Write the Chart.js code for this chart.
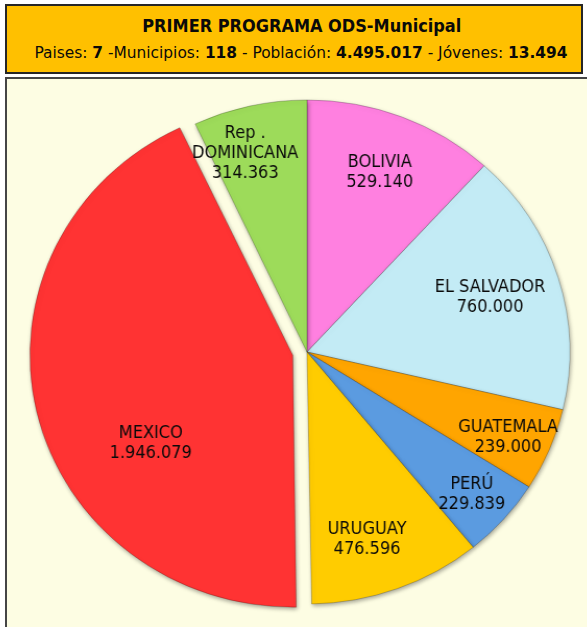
<!DOCTYPE html>
<html>
<head>
<meta charset="utf-8">
<script src="https://cdn.jsdelivr.net/npm/chart.js@4"></script>
<style>
html,body{margin:0;padding:0;width:587px;height:627px;overflow:hidden;background:#ffffff;}
#titleBox{position:absolute;left:5px;top:4px;width:574px;height:66px;background:#FFC000;border:2px solid #262626;}
.row{position:absolute;left:0;width:100%;height:22px;line-height:22px;text-align:center;white-space:nowrap;font-family:"DejaVu Sans",sans-serif;color:#0a0a0a;}
.row .inner{display:inline-block;transform-origin:50% 50%;}
#r1{top:9px;font-size:18px;font-weight:bold;}
#r2{top:36px;font-size:16px;}
#r2 b{font-weight:bold;}
#chartBox{position:absolute;left:5px;top:77px;width:640px;height:640px;background:#FDFDE3;border:2px solid #454545;}
#cv{position:absolute;left:0;top:0;transform:scaleX(1.043);transform-origin:307px 0;}
</style>
</head>
<body>
<div id="titleBox">
  <div class="row" id="r1"><span class="inner" id="t1"></span></div>
  <div class="row" id="r2"><span class="inner" id="t2"></span></div>
</div>
<div id="chartBox"></div>
<canvas id="cv" width="587" height="627"></canvas>
<script>
// ---- data ----
const titleText = 'PRIMER PROGRAMA ODS-Municipal';
const paises = 7;
const municipios = 118;
const poblacion = 4495017;
const jovenes = 13494;

const countries = ['BOLIVIA', 'EL SALVADOR', 'GUATEMALA', 'PERÚ', 'URUGUAY', 'MEXICO', 'Rep . DOMINICANA'];
const nameLines = [['BOLIVIA'], ['EL SALVADOR'], ['GUATEMALA'], ['PERÚ'], ['URUGUAY'], ['MEXICO'], ['Rep .', 'DOMINICANA']];
const population = [529140, 760000, 239000, 229839, 476596, 1946079, 314363];

// ---- styles ----
const sliceColors = ['#FF80E0', '#C3EBF5', '#FFA500', '#5B9BE0', '#FFCC00', '#FF3333', '#9DDB5A'];
const explodePx = [0, 0, 0, 0, 0, 14, 0];
const labelAngleShift = [0, 0, 1, 0.5, 3, -19.7, -4];
const labelRadiusFrac = [0.766, 0.729, 0.836, 0.845, 0.776, 0.643, 0.824];

function fmt(n) { return String(n).replace(/\B(?=(\d{3})+(?!\d))/g, '.'); }

document.getElementById('t1').textContent = titleText;
document.getElementById('t2').innerHTML =
  'Paises: <b>' + paises + '</b> -Municipios: <b>' + municipios + '</b> - Población: <b>' +
  fmt(poblacion) + '</b> - Jóvenes: <b>' + fmt(jovenes) + '</b>';

function fitWidth(id, target, shift) {
  const el = document.getElementById(id);
  const w = el.getBoundingClientRect().width;
  if (w > 0) el.style.transform = 'translateX(' + shift + 'px) scaleX(' + (target / w) + ')';
}
fitWidth('t1', 319, 8);
fitWidth('t2', 533, 7);

const fixOffset = {
  id: 'fixOffset',
  afterDatasetUpdate(chart, args) {
    args.meta.data.forEach((el, i) => {
      const off = explodePx[i];
      if (!off) return;
      const circ = el.endAngle - el.startAngle;
      const fix = 1 - Math.sin(Math.min(Math.PI, circ));
      el.outerRadius -= off * fix;
    });
  }
};

const shadow = {
  id: 'shadow',
  beforeDatasetDraw(chart) {
    const c = chart.ctx;
    c.save();
    c.shadowColor = 'rgba(0,0,0,0.35)';
    c.shadowBlur = 4;
    c.shadowOffsetX = 1;
    c.shadowOffsetY = 2;
  },
  afterDatasetDraw(chart) { chart.ctx.restore(); }
};

const sliceLabels = {
  id: 'sliceLabels',
  afterDatasetsDraw(chart) {
    const ctx = chart.ctx;
    const meta = chart.getDatasetMeta(0);
    ctx.save();
    ctx.font = '18px "DejaVu Sans", sans-serif';
    ctx.fillStyle = '#0a0a0a';
    ctx.textAlign = 'center';
    ctx.textBaseline = 'middle';
    meta.data.forEach((el, i) => {
      const p = el.getProps(['x', 'y', 'startAngle', 'endAngle', 'outerRadius']);
      const half = (p.startAngle + p.endAngle) / 2;
      const ang = half + labelAngleShift[i] * Math.PI / 180;
      const R = chart.options.radius;
      let x = p.x + Math.cos(ang) * R * labelRadiusFrac[i] + Math.cos(half) * explodePx[i];
      let y = p.y + Math.sin(ang) * R * labelRadiusFrac[i] + Math.sin(half) * explodePx[i];
      const lines = nameLines[i].concat([fmt(population[i])]);
      const lh = 20;
      const y0 = y - (lines.length - 1) * lh / 2;
      lines.forEach((t, k) => {
        ctx.save();
        ctx.translate(x, y0 + k * lh);
        ctx.scale(0.86, 1);
        ctx.fillText(t, 0, 0);
        ctx.restore();
      });
    });
    ctx.restore();
  }
};

new Chart(document.getElementById('cv'), {
  type: 'pie',
  data: {
    labels: countries,
    datasets: [{
      data: population,
      backgroundColor: sliceColors,
      borderColor: 'rgba(0,0,0,0.22)',
      borderWidth: 1,
      offset: explodePx.map(v => v * 4)
    }]
  },
  options: {
    responsive: false,
    animation: false,
    events: [],
    radius: 252,
    rotation: 0,
    layout: { padding: { left: 27, top: 77, right: 0, bottom: 0 } },
    plugins: { legend: { display: false }, tooltip: { enabled: false } }
  },
  plugins: [fixOffset, shadow, sliceLabels]
});
</script>
</body>
</html>
